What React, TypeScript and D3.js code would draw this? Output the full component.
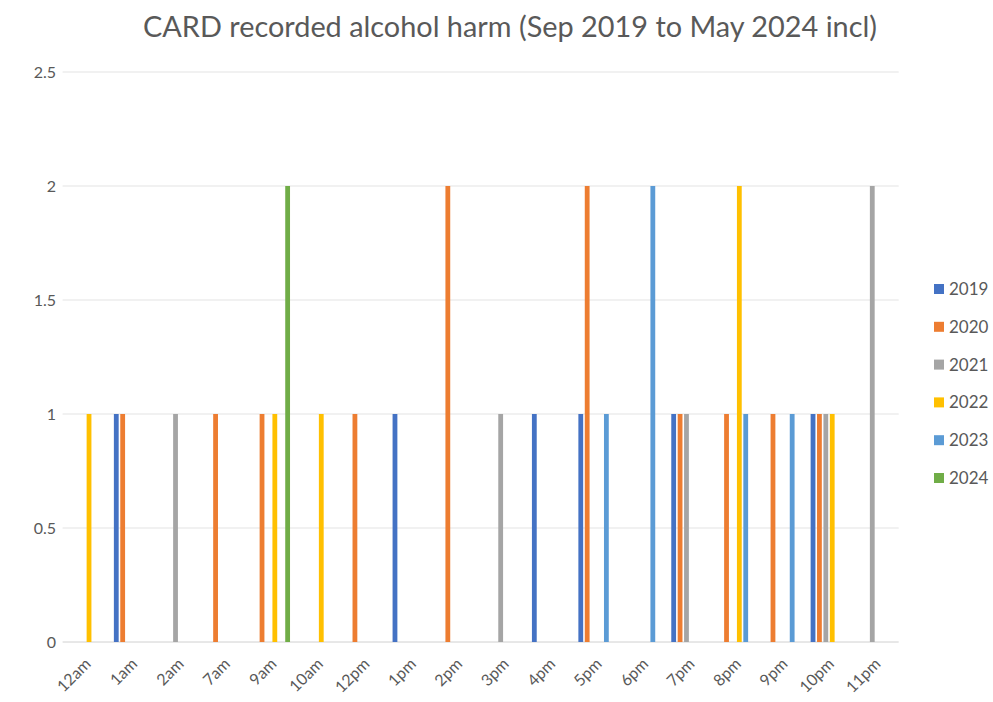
import React from "react";
import * as d3 from "d3";

const categories = ["12am","1am","2am","7am","9am","10am","12pm","1pm","2pm","3pm","4pm","5pm","6pm","7pm","8pm","9pm","10pm","11pm"];
const series = ["2019","2020","2021","2022","2023","2024"];
const colors = ["#4472C4","#ED7D31","#A5A5A5","#FFC000","#5B9BD5","#70AD47"];
const v2019 = [0,1,0,0,0,0,0,1,0,0,1,1,0,1,0,0,1,0];
const v2020 = [0,1,0,1,1,0,1,0,2,0,0,2,0,1,1,1,1,0];
const v2021 = [0,0,1,0,0,0,0,0,0,1,0,0,0,1,0,0,1,2];
const v2022 = [1,0,0,0,1,1,0,0,0,0,0,0,0,0,2,0,1,0];
const v2023 = [0,0,0,0,0,0,0,0,0,0,0,1,2,0,1,1,0,0];
const v2024 = [0,0,0,0,2,0,0,0,0,0,0,0,0,0,0,0,0,0];
const values = [v2019, v2020, v2021, v2022, v2023, v2024];
const yTicks = [0, 0.5, 1, 1.5, 2, 2.5];
const title = "CARD recorded alcohol harm (Sep 2019 to May 2024 incl)";

const W = 993, H = 702;
const FONT = "Lato, 'Open Sans', sans-serif";
const TXT = "#595959";

export default function App() {
  const left = 62.6, right = 898.7, top = 72, bottom = 642;
  const x0 = d3.scaleBand<string>().domain(categories).range([left, right]).padding(0);
  const bw = x0.bandwidth();
  const groupW = 38.4;
  const x1 = d3.scaleBand<string>().domain(series).range([(bw - groupW) / 2, (bw + groupW) / 2]).padding(0);
  const barW = 4.8;
  const y = d3.scaleLinear().domain([0, 2.5]).range([bottom, top]);

  return (
    <svg width={W} height={H} style={{ position: "absolute", left: 0, top: 0, background: "#fff" }}>
      <text x={510} y={37} textAnchor="middle" fontFamily={FONT} fontWeight={400} fontSize={28} fill={TXT} textLength={734} lengthAdjust="spacingAndGlyphs">{title}</text>
      {yTicks.map(t => (
        <g key={t}>
          <line x1={left} x2={right} y1={y(t)} y2={y(t)} stroke={t === 0 ? "#d0d0d0" : "#e3e3e3"} strokeWidth={1} />
          <text x={56} y={y(t) + 5.5} textAnchor="end" fontFamily={FONT} fontSize={16} fill={TXT}>{t}</text>
        </g>
      ))}
      {series.map((s, si) => (
        <g key={s}>
          {categories.map((c, ci) => {
            const v = values[si][ci];
            if (!v) return null;
            const cx = (x0(c) as number) + (x1(s) as number) + x1.bandwidth() / 2;
            return <rect key={c} x={cx - barW / 2} y={y(v)} width={barW} height={y(0) - y(v)} fill={colors[si]} />;
          })}
        </g>
      ))}
      {categories.map(c => {
        const cx = (x0(c) as number) + bw / 2 + 6;
        const ty = 665;
        return (
          <text key={c} x={cx} y={ty} textAnchor="end" transform={`rotate(-45 ${cx} ${ty})`} fontFamily={FONT} fontSize={16} fill={TXT}>{c}</text>
        );
      })}
      {series.map((s, i) => {
        const ly = 289 + i * 37.8;
        return (
          <g key={s}>
            <rect x={934} y={ly - 5} width={10} height={10} fill={colors[i]} />
            <text x={949} y={ly + 6} fontFamily={FONT} fontSize={17} fill={TXT}>{s}</text>
          </g>
        );
      })}
    </svg>
  );
}
